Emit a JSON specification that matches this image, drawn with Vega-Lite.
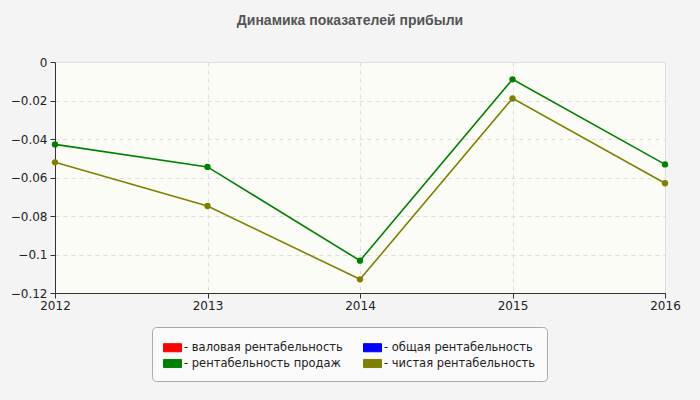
{
  "$schema": "https://vega.github.io/schema/vega-lite/v6.json",
  "width": 610,
  "height": 231,
  "autosize": {"type": "none"},
  "padding": {"left": 55, "right": 35, "top": 62, "bottom": 107},
  "background": "#f4f4f4",
  "title": {
    "text": "Динамика показателей прибыли",
    "font": "Liberation Sans Narrow, Liberation Sans",
    "fontSize": 14,
    "fontWeight": "bold",
    "color": "#555555",
    "anchor": "middle",
    "dx": -10,
    "offset": 28
  },
  "data": {
    "values": [
      {"year": "2012", "series": "рентабельность продаж", "value": -0.0428},
      {"year": "2013", "series": "рентабельность продаж", "value": -0.0545},
      {"year": "2014", "series": "рентабельность продаж", "value": -0.1032},
      {"year": "2015", "series": "рентабельность продаж", "value": -0.009},
      {"year": "2016", "series": "рентабельность продаж", "value": -0.0532},
      {"year": "2012", "series": "чистая рентабельность", "value": -0.0521},
      {"year": "2013", "series": "чистая рентабельность", "value": -0.0748},
      {"year": "2014", "series": "чистая рентабельность", "value": -0.1129},
      {"year": "2015", "series": "чистая рентабельность", "value": -0.0189},
      {"year": "2016", "series": "чистая рентабельность", "value": -0.063}
    ]
  },
  "encoding": {
    "x": {
      "field": "year",
      "type": "ordinal",
      "scale": {"type": "point", "padding": 0},
      "axis": {
        "title": null,
        "labelAngle": 0,
        "grid": true,
        "gridDash": [4, 4],
        "gridColor": "#dddddd",
        "domainColor": "#333333",
        "tickColor": "#333333",
        "tickSize": 5,
        "labelFontSize": 12,
        "labelColor": "#222222",
        "labelFont": "DejaVu Sans",
        "labelPadding": 2
      }
    },
    "y": {
      "field": "value",
      "type": "quantitative",
      "scale": {"domain": [-0.12, 0], "nice": false, "zero": false},
      "axis": {
        "title": null,
        "values": [0, -0.02, -0.04, -0.06, -0.08, -0.1, -0.12],
        "format": ".2~f",
        "grid": true,
        "gridDash": [4, 4],
        "gridColor": "#dddddd",
        "domainColor": "#333333",
        "tickColor": "#333333",
        "tickSize": 5,
        "labelFontSize": 12,
        "labelColor": "#222222",
        "labelFont": "DejaVu Sans",
        "labelPadding": 3
      }
    },
    "color": {
      "field": "series",
      "type": "nominal",
      "scale": {
        "domain": ["валовая рентабельность", "общая рентабельность", "рентабельность продаж", "чистая рентабельность"],
        "range": ["#ff0000", "#0000ff", "#008000", "#808000"]
      },
      "legend": {
        "title": null,
        "orient": "none",
        "legendX": 97,
        "legendY": 265,
        "direction": "horizontal",
        "columns": 2,
        "columnPadding": 18,
        "rowPadding": 0,
        "padding": 11,
        "fillColor": "#fafafa",
        "strokeColor": "#aaaaaa",
        "cornerRadius": 4,
        "symbolType": "M-1,-0.45H1V0.45H-1Z",
        "symbolSize": 324,
        "symbolStrokeWidth": 1,
        "symbolOpacity": 1,
        "labelExpr": "'- ' + datum.label",
        "labelFont": "DejaVu Sans",
        "labelFontSize": 11.5,
        "labelColor": "#222222",
        "labelLimit": 300,
        "labelOffset": 2
      }
    }
  },
  "layer": [
    {"mark": {"type": "line", "strokeWidth": 1.6}},
    {"mark": {"type": "point", "filled": true, "size": 40, "opacity": 1}}
  ],
  "config": {
    "view": {"fill": "#fcfcf6", "stroke": "#dddddd"},
    "axis": {"domainWidth": 1}
  }
}
